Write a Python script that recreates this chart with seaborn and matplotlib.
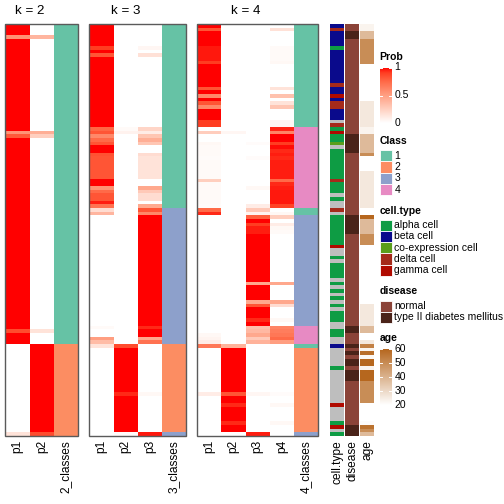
import numpy as np
import pandas as pd
import matplotlib
matplotlib.use("Agg")
import matplotlib.pyplot as plt
import seaborn as sns
from matplotlib.colors import LinearSegmentedColormap, ListedColormap
from matplotlib.patches import Rectangle

plt.rcParams['font.family'] = ['Liberation Sans', 'DejaVu Sans']

# ---------------- data (one value per sample row, top to bottom) ----------------
k2_p1 = [1]*3 + [0.55] + [1]*25 + [0.55, 0.80] + [1]*52 + [0.85] + [1]*3 + [0]*24 + [0.15]
k2_p2 = [0]*3 + [0.38] + [0]*25 + [0.42, 0.25] + [0]*52 + [0.15] + [0]*3 + [1]*24 + [0.85]
k2_class = [1]*87 + [2]*25

k3_p1 = ([1]*6 + [0.9, 1, 0.82] + [1]*19 + [0.75, 0.82, 0.6, 0.74, 0.82] + [1]*2 + [0.83]
         + [0.82]*6 + [1]*2 + [0.56, 0.74, 0.82, 0.82, 0.95, 0.7, 0.18, 0.38] + [0]*30
         + [0.03, 0, 0, 0.5, 0.35, 0.15] + [0]*24)
k3_p2 = [0]*28 + [0.03, 0.07] + [0]*57 + [0.85] + [1]*12 + [0.93] + [1]*10 + [0.02]
k3_p3 = ([0]*6 + [0.05, 0, 0.16] + [0]*19 + [0.22, 0.1, 0.3, 0.42, 0.3] + [0]*2 + [0.18]
         + [0.15]*6 + [0]*2 + [0.45, 0.28, 0.18, 0.18, 0, 0.44, 0.82, 0.6] + [1]*30
         + [0.93, 1, 1, 0.45, 0.7, 0] + [0]*12 + [0.04] + [0]*10 + [0.96])
k3_class = [1]*50 + [3]*37 + [2]*24 + [3]

k4_p1 = ([1, 0.82] + [1]*4 + [0.96]*4 + [0.9] + [1]*6 + [0.82, 1, 0.6, 1, 0.82, 0.6] + [1]*3
         + [0.9]*2 + [0, 0.26, 0, 0, 0.04, 0.03, 0.03, 0.03, 0.02] + [0.03]*5 + [0.25, 0.03, 0.03]
         + [0.03]*4 + [0.02, 0.74, 0.93] + [0]*31 + [0, 0.04, 0.06, 0.1, 0.68] + [0]*12 + [0.1] + [0]*11)
k4_p2 = [0]*29 + [0.05] + [0]*57 + [0.4] + [1]*12 + [0.82] + [1]*2 + [0.93] + [1]*4 + [0.93] + [1]*2 + [0]
k4_p3 = ([0]*32 + [0.02] + [0]*3 + [0.02] + [0]*7 + [0.04] + [0]*4
         + [0.1, 0.28, 0.06, 0.78, 1, 0.9, 0.95, 0.95] + [1]*13 + [0.45] + [1]*4 + [0.45, 0.82]
         + [1]*3 + [0.93, 1, 0.33, 0.37, 0.45, 0.28, 0.4, 0] + [0]*12 + [0.05] + [0]*10 + [0.95])
k4_p4 = ([0, 0.16] + [0]*4 + [0.03]*4 + [0.04] + [0]*6 + [0.15, 0, 0.32, 0, 0.15, 0.3] + [0]*3
         + [0.05]*2 + [0.94, 0.62, 1, 1, 0.9, 0.98, 0.93, 0.95, 0.93] + [0.95]*5 + [0.74, 0.93, 0.95]
         + [0.96]*4 + [0.88, 0, 0.04, 0.25, 0, 0.1, 0.04, 0.03] + [0]*13 + [0.45] + [0]*4
         + [0.45, 0.18] + [0]*3 + [0.04, 0, 0.62, 0.65, 0.68, 0.74, 0.5, 0] + [0]*12
         + [0.02, 0, 0, 0.04] + [0]*4 + [0.04] + [0]*3)
k4_class = [1]*28 + [4]*22 + [1]*2 + [3]*30 + [4]*5 + [1] + [2]*23 + [3]

A, B, C, D, G, NA = 'alpha cell', 'beta cell', 'co-expression cell', 'delta cell', 'gamma cell', None
cell_type = ([B, D] + [B]*4 + [A] + [B]*9 + [D] + [B]*2 + [G, B] + [D]*2 + [B]*3 + [NA, D, A, G]
             + [A]*2 + [C, NA] + [A]*8 + [D] + [A]*3 + [NA, A] + [NA]*2 + [D, NA] + [A]*8 + [G]
             + [NA]*2 + [A, NA] + [A]*4 + [NA, A, NA, A, NA, A, NA, A, NA] + [A]*3 + [NA]*2
             + [A]*2 + [NA]*2 + [B] + [NA]*5 + [A] + [NA]*9 + [G] + [NA]*4 + [A, G, NA, A])
N, T = 'normal', 'type II diabetes mellitus'
disease = ([N]*2 + [T]*2 + [N]*26 + [T]*5 + [N]*17 + [T]*5 + [N]*25 + [T]*2 + [N]*3
           + [T, N, T, N] + [T]*2 + [N] + [T]*3 + [N]*12 + [T]*3)
age = ([23]*2 + [38]*2 + [50]*7 + [20]*10 + [26]*7 + [23]*2 + [38]*5 + [50] + [20]*4 + [26]*10
       + [20]*2 + [60] + [38]*4 + [50]*3 + [20]*16 + [26]*6 + [38]*2 + [20]*2 + [26, 53, 23, 58, 22]
       + [60]*2 + [23] + [60]*3 + [50]*6 + [20]*5 + [21, 57, 50, 38])

cell_levels = [A, B, C, D, G]
disease_levels = [N, T]
prob_ticks = [1, 0.5, 0]
age_ticks = [60, 50, 40, 30, 20]

# ---------------- styles ----------------
SET2 = ['#66C2A5', '#FC8D62', '#8DA0CB', '#E78AC3']
CELL_COLORS = ['#0E9C44', '#0A0A8C', '#5A9E1A', '#A52A1A', '#B00A00']
NA_COLOR = '#BEBEBE'
DISEASE_COLORS = ['#8B4338', '#4A2319']
prob_cmap = LinearSegmentedColormap.from_list(
    'prob', [(0, '#FFFFFF'), (0.1, '#FFECE5'), (0.25, '#FFCFBF'), (0.5, '#FF9E81'),
             (0.75, '#FF6846'), (0.9, '#FF3E22'), (1, '#FF0000')])
age_cmap = LinearSegmentedColormap.from_list('age', ['#FFFFFF', '#B6671E'])

W = H = 504
TOP, BOT = 24, 436
LAB_FS = 8.6
LEG_FS = 7.5

fig = plt.figure(figsize=(5.04, 5.04), dpi=100)


def px_ax(x0, x1, y0=TOP, y1=BOT):
    return fig.add_axes([x0 / W, 1 - y1 / H, (x1 - x0) / W, (y1 - y0) / H])


def style_ticks(ax):
    ax.tick_params(axis='x', length=0, pad=3, labelsize=LAB_FS, labelrotation=90)
    ax.tick_params(axis='y', length=0)


panels = [
    (2, [k2_p1, k2_p2], k2_class, 5.3, 54, 78),
    (3, [k3_p1, k3_p2, k3_p3], k3_class, 89.3, 162, 185.7),
    (4, [k4_p1, k4_p2, k4_p3, k4_p4], k4_class, 197.3, 294, 318.3),
]

for k, probs, cls, x0, xm, x1 in panels:
    ax = px_ax(x0, xm)
    df = pd.DataFrame({f'p{i + 1}': p for i, p in enumerate(probs)})
    sns.heatmap(df, ax=ax, cmap=prob_cmap, vmin=0, vmax=1, cbar=False,
                xticklabels=True, yticklabels=False)
    style_ticks(ax)
    axc = px_ax(xm, x1)
    sns.heatmap(pd.DataFrame({f'{k}_classes': cls}), ax=axc,
                cmap=ListedColormap(SET2[:k]), vmin=0.5, vmax=k + 0.5, cbar=False,
                xticklabels=True, yticklabels=False)
    style_ticks(axc)
    fig.add_artist(Rectangle((x0 / W, 1 - BOT / H), (x1 - x0) / W, (BOT - TOP) / H,
                             transform=fig.transFigure, fill=False,
                             edgecolor='#5A5A5A', lw=1.0))
    fig.text(((x0 + xm) / 2) / W, 1 - 11 / H, f'k = {k}', ha='center', va='center',
             fontsize=9.6)

# annotations
ct_codes = [cell_levels.index(c) if c is not None else len(cell_levels) for c in cell_type]
ax = px_ax(330, 344)
sns.heatmap(pd.DataFrame({'cell.type': ct_codes}), ax=ax,
            cmap=ListedColormap(CELL_COLORS + [NA_COLOR]), vmin=-0.5,
            vmax=len(cell_levels) + 0.5, cbar=False, xticklabels=True, yticklabels=False)
style_ticks(ax)

ax = px_ax(345, 359)
sns.heatmap(pd.DataFrame({'disease': [disease_levels.index(d) for d in disease]}), ax=ax,
            cmap=ListedColormap(DISEASE_COLORS), vmin=-0.5, vmax=1.5, cbar=False,
            xticklabels=True, yticklabels=False)
style_ticks(ax)

ax = px_ax(360, 374)
sns.heatmap(pd.DataFrame({'age': age}), ax=ax, cmap=age_cmap, vmin=20, vmax=60, cbar=False,
            xticklabels=True, yticklabels=False)
style_ticks(ax)

# ---------------- legends ----------------
LX = 379.5


def leg_title(y, text):
    fig.text(LX / W, 1 - y / H, text, fontweight='bold', fontsize=LEG_FS,
             ha='left', va='center')


def leg_label(y, text):
    fig.text(394.5 / W, 1 - y / H, text, fontsize=LEG_FS, ha='left', va='center')


def swatches(y0, colors, labels, step=11.3):
    for i, (c, l) in enumerate(zip(colors, labels)):
        ya = y0 + i * step
        fig.add_artist(Rectangle((LX / W, 1 - (ya + step) / H), 12 / W, step / H,
                                 transform=fig.transFigure, facecolor=c,
                                 edgecolor='white', lw=0.6))
        leg_label(ya + step / 2, l)


def colorbar(y_top, y_bot, cmap, vmin, vmax, ticks):
    cax = px_ax(LX, LX + 12, y_top, y_bot)
    grad = np.linspace(vmax, vmin, 200)[:, None]
    cax.imshow(grad, aspect='auto', cmap=cmap, vmin=vmin, vmax=vmax,
               extent=[0, 1, vmin, vmax])
    for t in ticks:
        cax.plot([0, 0.18], [t, t], color='white', lw=0.7)
        cax.plot([0.82, 1], [t, t], color='white', lw=0.7)
    cax.set_xlim(0, 1)
    cax.set_ylim(vmin, vmax)
    cax.axis('off')
    for t in ticks:
        y = y_top + (vmax - t) / (vmax - vmin) * (y_bot - y_top)
        leg_label(y, f'{t:g}')


leg_title(57, 'Prob')
colorbar(67.5, 123.5, prob_cmap, 0, 1, prob_ticks)

leg_title(141, 'Class')
swatches(150, SET2, ['1', '2', '3', '4'])

leg_title(211, 'cell.type')
swatches(219.5, CELL_COLORS, cell_levels)

leg_title(291.5, 'disease')
swatches(300.5, DISEASE_COLORS, disease_levels)

leg_title(338, 'age')
colorbar(349.3, 405.3, age_cmap, 20, 60, age_ticks)

fig.savefig('out.png', dpi=100)
